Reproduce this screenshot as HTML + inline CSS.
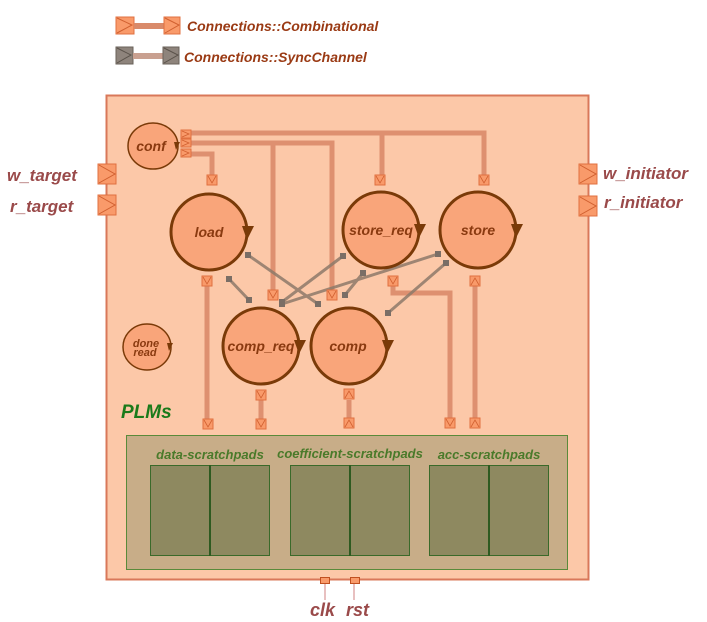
<!DOCTYPE html>
<html><head><style>body{margin:0;background:#fff}svg{display:block}</style></head><body>
<svg width="707" height="622" viewBox="0 0 707 622" xmlns="http://www.w3.org/2000/svg" font-family="Liberation Sans, sans-serif" font-style="italic" font-weight="bold">
<defs>
<g id="pd"><rect x="-5" y="-5" width="10" height="10" fill="#f99a6a" stroke="#e07040" stroke-width="1"/><path d="M-4,-4 L0,3 L4,-4" fill="none" stroke="#d06030" stroke-width="0.8"/></g>
<g id="pu"><rect x="-5" y="-5" width="10" height="10" fill="#f99a6a" stroke="#e07040" stroke-width="1"/><path d="M-4,4 L0,-3 L4,4" fill="none" stroke="#d06030" stroke-width="0.8"/></g>
<g id="pr"><rect x="-5" y="-4" width="10" height="8" fill="#f99a6a" stroke="#e07040" stroke-width="1"/><path d="M-4,-3 L3,0 L-4,3" fill="none" stroke="#d06030" stroke-width="0.8"/></g>
<g id="bp"><rect x="-9" y="-10" width="18" height="20" fill="#f99a6a" stroke="#e07040"/><path d="M-8,-9 L8,0 L-8,9" fill="none" stroke="#d06030"/></g>
</defs>
<!-- legend -->
<rect x="116" y="17" width="18" height="17" fill="#f99a6a" stroke="#e07040"/><path d="M117,18 L132,25 L117,33" fill="none" stroke="#d06030"/>
<rect x="134" y="23" width="30" height="6" fill="#d98a6a"/>
<rect x="164" y="17" width="16" height="17" fill="#f99a6a" stroke="#e07040"/><path d="M165,18 L179,25 L165,33" fill="none" stroke="#d06030"/>
<rect x="116" y="47" width="17" height="17" fill="#8e847c" stroke="#6a625a"/><path d="M117,48 L131,55 L117,63" fill="none" stroke="#5a524a"/>
<rect x="133" y="53" width="30" height="6" fill="#c9a090"/>
<rect x="163" y="47" width="16" height="17" fill="#8e847c" stroke="#6a625a"/><path d="M164,48 L178,55 L164,63" fill="none" stroke="#5a524a"/>
<text x="187" y="31" font-size="14" fill="#9a3a14">Connections::Combinational</text>
<text x="184" y="62" font-size="14" fill="#9a3a14">Connections::SyncChannel</text>
<!-- main box -->
<rect x="106.5" y="95.5" width="482" height="484" fill="#fcc8a8" stroke="#d9785a" stroke-width="2"/>
<!-- wires -->
<g fill="none" stroke="#de9070" stroke-width="5" stroke-linejoin="miter">
<path d="M190,133 H484 V175"/><path d="M382,133 V175"/>
<path d="M190,143 H332 V290"/><path d="M273,143 V290"/>
<path d="M190,154 H212 V175"/>
<path d="M207,285 V419"/><path d="M261,400 V419"/><path d="M349,400 V419"/>
<path d="M393,285 V293 H450 V419"/><path d="M475,285 V419"/>
</g>
<!-- sync lines -->
<g stroke="#8e7a6a" stroke-width="3" opacity="0.85">
<line x1="229" y1="279" x2="249" y2="300"/><line x1="248" y1="255" x2="318" y2="304"/>
<line x1="343" y1="256" x2="282" y2="302"/><line x1="438" y1="254" x2="282" y2="304"/>
<line x1="363" y1="273" x2="345" y2="295"/><line x1="446" y1="263" x2="388" y2="313"/>
</g>
<g fill="#7a6e66">
<rect x="226" y="276" width="6" height="6"/><rect x="246" y="297" width="6" height="6"/><rect x="245" y="252" width="6" height="6"/><rect x="315" y="301" width="6" height="6"/><rect x="340" y="253" width="6" height="6"/><rect x="279" y="299" width="6" height="6"/><rect x="435" y="251" width="6" height="6"/><rect x="279" y="301" width="6" height="6"/><rect x="360" y="270" width="6" height="6"/><rect x="342" y="292" width="6" height="6"/><rect x="443" y="260" width="6" height="6"/><rect x="385" y="310" width="6" height="6"/>
</g>
<!-- circles -->
<g fill="#f9a57a" stroke="#7a3a08" stroke-width="1.5">
<ellipse cx="153" cy="146" rx="25" ry="23"/><ellipse cx="147" cy="347" rx="24" ry="23"/>
</g>
<g fill="#f9a57a" stroke="#7a3a08" stroke-width="3">
<circle cx="209" cy="232" r="38"/><circle cx="381" cy="230" r="38"/><circle cx="478" cy="230" r="38"/>
<circle cx="261" cy="346" r="38"/><circle cx="349" cy="346" r="38"/>
</g>
<g fill="#7a3a08">
<path d="M242,226 L254,226 L247,240Z"/><path d="M414,224 L426,224 L419,238Z"/><path d="M511,224 L523,224 L516,238Z"/>
<path d="M294,340 L306,340 L299,354Z"/><path d="M382,340 L394,340 L387,354Z"/>
<path d="M174,142 L180,142 L176,150Z"/><path d="M167,343 L173,343 L169,351Z"/>
</g>
<g fill="#8a3a10" font-size="14" text-anchor="middle">
<text x="151" y="151">conf</text>
<text x="209" y="237">load</text><text x="381" y="235">store_req</text><text x="478" y="235">store</text>
<text x="261" y="351">comp_req</text><text x="348" y="351">comp</text>
<text x="146" y="347" font-size="11">done</text><text x="145" y="356" font-size="11">read</text>
</g>
<!-- ports -->
<use href="#pr" x="186" y="134"/><use href="#pr" x="186" y="143"/><use href="#pr" x="186" y="153"/>
<use href="#pd" x="212" y="180"/><use href="#pd" x="380" y="180"/><use href="#pd" x="484" y="180"/>
<use href="#pd" x="207" y="281"/><use href="#pd" x="393" y="281"/><use href="#pu" x="475" y="281"/>
<use href="#pd" x="273" y="295"/><use href="#pd" x="332" y="295"/>
<use href="#pd" x="261" y="395"/><use href="#pu" x="349" y="394"/>
<use href="#pd" x="208" y="424"/><use href="#pd" x="261" y="424"/><use href="#pu" x="349" y="423"/><use href="#pd" x="450" y="423"/><use href="#pu" x="475" y="423"/>
<use href="#bp" x="107" y="174"/><use href="#bp" x="107" y="205"/>
<use href="#bp" x="588" y="174"/><use href="#bp" x="588" y="206"/>
<text x="7" y="181" font-size="17" fill="#9a4a4a">w_target</text>
<text x="10" y="212" font-size="17" fill="#9a4a4a">r_target</text>
<text x="603" y="179" font-size="17" fill="#9a4a4a">w_initiator</text>
<text x="604" y="208" font-size="17" fill="#9a4a4a">r_initiator</text>
<!-- PLMs -->
<text x="121" y="418" font-size="19" fill="#1a7a1a">PLMs</text>
<rect x="126.5" y="435.5" width="441" height="134" fill="#c8ad88" stroke="#5a8a3a"/>
<g fill="#8e8960" stroke="#3a6a2a">
<rect x="150.5" y="465.5" width="119" height="90"/><rect x="290.5" y="465.5" width="119" height="90"/><rect x="429.5" y="465.5" width="119" height="90"/>
</g>
<g stroke="#2e5a20" stroke-width="2"><line x1="210" y1="465" x2="210" y2="556"/><line x1="350" y1="465" x2="350" y2="556"/><line x1="489" y1="465" x2="489" y2="556"/></g>
<g fill="#4a7a2a" font-size="13" text-anchor="middle">
<text x="210" y="459">data-scratchpads</text><text x="350" y="458">coefficient-scratchpads</text><text x="489" y="459">acc-scratchpads</text>
</g>
<rect x="320.5" y="577.5" width="9" height="6" fill="#f99a6a" stroke="#c05020"/>
<rect x="350.5" y="577.5" width="9" height="6" fill="#f99a6a" stroke="#c05020"/>
<line x1="325" y1="584" x2="325" y2="600" stroke="#d08080"/><line x1="354" y1="584" x2="354" y2="600" stroke="#d08080"/>
<text x="310" y="616" font-size="18" fill="#9a4a4a">clk</text>
<text x="346" y="616" font-size="18" fill="#9a4a4a">rst</text>
</svg>
</body></html>
